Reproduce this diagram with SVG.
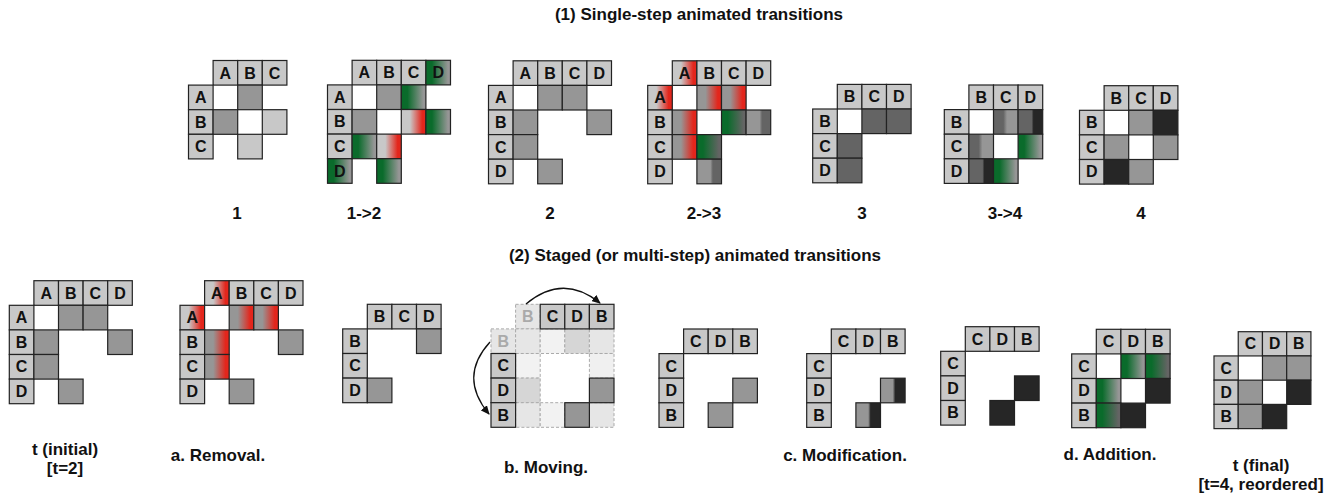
<svg xmlns="http://www.w3.org/2000/svg" width="1332" height="495" viewBox="0 0 1332 495">
<style>
rect{stroke:#222;stroke-width:1.2}
rect.bg{fill:#fff;stroke:none}
.h{fill:#c8c8c8}
.m{fill:#969696}
.d{fill:#646464}
.k{fill:#262626}
.lt{fill:#c8c8c8}
.gh{stroke:#aaa;stroke-dasharray:3 2;stroke-width:1}
.t{font-family:"Liberation Sans",Arial,sans-serif;font-weight:bold;font-size:16px;text-anchor:middle;fill:#111}
.tg{fill:#aaa}
.lb{font-family:"Liberation Sans",Arial,sans-serif;font-weight:bold;font-size:17px;text-anchor:middle;fill:#111}
.arc{fill:none;stroke:#111;stroke-width:1.3}
</style>
<defs>
<linearGradient id="gG9"><stop offset="0" stop-color="#0a6b2b"/><stop offset="0.25" stop-color="#0a6b2b"/><stop offset="0.9" stop-color="#969696"/></linearGradient>
<linearGradient id="gG6"><stop offset="0" stop-color="#0a6b2b"/><stop offset="0.25" stop-color="#0a6b2b"/><stop offset="0.9" stop-color="#646464"/></linearGradient>
<linearGradient id="gCR"><stop offset="0" stop-color="#c8c8c8"/><stop offset="0.35" stop-color="#c8c8c8"/><stop offset="0.85" stop-color="#e3261c"/><stop offset="1" stop-color="#e3261c"/></linearGradient>
<linearGradient id="g9R"><stop offset="0" stop-color="#969696"/><stop offset="0.35" stop-color="#969696"/><stop offset="0.85" stop-color="#e3261c"/><stop offset="1" stop-color="#e3261c"/></linearGradient>
<linearGradient id="g96"><stop offset="0" stop-color="#969696"/><stop offset="0.55" stop-color="#969696"/><stop offset="0.65" stop-color="#646464"/></linearGradient>
<linearGradient id="g69"><stop offset="0" stop-color="#646464"/><stop offset="0.4" stop-color="#646464"/><stop offset="0.55" stop-color="#969696"/></linearGradient>
<linearGradient id="g62"><stop offset="0" stop-color="#646464"/><stop offset="0.55" stop-color="#646464"/><stop offset="0.63" stop-color="#262626"/></linearGradient>
<linearGradient id="g92"><stop offset="0" stop-color="#969696"/><stop offset="0.5" stop-color="#969696"/><stop offset="0.6" stop-color="#262626"/></linearGradient>
<marker id="ah" markerUnits="userSpaceOnUse" markerWidth="9" markerHeight="8" refX="8" refY="4" orient="auto"><path d="M0,0 L9,4 L0,8 z" fill="#111"/></marker>
</defs>
<rect class="bg" x="0" y="0" width="1332" height="495"/>

<g id="titles">
<text class="lb" x="699" y="20">(1) Single-step animated transitions</text>
<text class="lb" x="695" y="261">(2) Staged (or multi-step) animated transitions</text>
<text class="lb" x="237" y="219">1</text>
<text class="lb" x="364" y="219">1-&gt;2</text>
<text class="lb" x="550" y="219">2</text>
<text class="lb" x="704" y="219">2-&gt;3</text>
<text class="lb" x="862" y="219">3</text>
<text class="lb" x="1005" y="219">3-&gt;4</text>
<text class="lb" x="1141" y="219">4</text>
<text class="lb" x="65" y="455">t (initial)</text>
<text class="lb" x="65" y="474">[t=2]</text>
<text class="lb" x="218" y="461">a. Removal.</text>
<text class="lb" x="546" y="473">b. Moving.</text>
<text class="lb" x="845" y="461">c. Modification.</text>
<text class="lb" x="1110" y="460">d. Addition.</text>
<text class="lb" x="1261" y="471">t (final)</text>
<text class="lb" x="1261" y="490">[t=4, reordered]</text>
</g>

<!-- Top row -->
<g id="m1" transform="translate(188.5,60.5)">
<rect class="h" x="24.6" y="0" width="24.6" height="24.6"/><rect class="h" x="49.2" y="0" width="24.6" height="24.6"/><rect class="h" x="73.8" y="0" width="24.6" height="24.6"/>
<rect class="h" x="0" y="24.6" width="24.6" height="24.6"/><rect class="h" x="0" y="49.2" width="24.6" height="24.6"/><rect class="h" x="0" y="73.8" width="24.6" height="24.6"/>
<rect class="m" x="49.2" y="24.6" width="24.6" height="24.6"/>
<rect class="m" x="24.6" y="49.2" width="24.6" height="24.6"/>
<rect class="lt" x="73.8" y="49.2" width="24.6" height="24.6"/>
<rect class="lt" x="49.2" y="73.8" width="24.6" height="24.6"/>
<text class="t" x="36.9" y="18">A</text><text class="t" x="61.5" y="18">B</text><text class="t" x="86.1" y="18">C</text>
<text class="t" x="12.3" y="42.6">A</text><text class="t" x="12.3" y="67.2">B</text><text class="t" x="12.3" y="91.8">C</text>
</g>

<g id="m12" transform="translate(327.5,60.3)">
<rect class="h" x="24.6" y="0" width="24.6" height="24.6"/><rect class="h" x="49.2" y="0" width="24.6" height="24.6"/><rect class="h" x="73.8" y="0" width="24.6" height="24.6"/><rect fill="url(#gG9)" x="98.4" y="0" width="24.6" height="24.6"/>
<rect class="h" x="0" y="24.6" width="24.6" height="24.6"/><rect class="h" x="0" y="49.2" width="24.6" height="24.6"/><rect class="h" x="0" y="73.8" width="24.6" height="24.6"/><rect fill="url(#gG9)" x="0" y="98.4" width="24.6" height="24.6"/>
<rect class="m" x="49.2" y="24.6" width="24.6" height="24.6"/>
<rect fill="url(#gG9)" x="73.8" y="24.6" width="24.6" height="24.6"/>
<rect class="m" x="24.6" y="49.2" width="24.6" height="24.6"/>
<rect fill="url(#gCR)" x="73.8" y="49.2" width="24.6" height="24.6"/>
<rect fill="url(#gG9)" x="98.4" y="49.2" width="24.6" height="24.6"/>
<rect fill="url(#gG9)" x="24.6" y="73.8" width="24.6" height="24.6"/>
<rect fill="url(#gCR)" x="49.2" y="73.8" width="24.6" height="24.6"/>
<rect fill="url(#gG9)" x="49.2" y="98.4" width="24.6" height="24.6"/>
<text class="t" x="36.9" y="18">A</text><text class="t" x="61.5" y="18">B</text><text class="t" x="86.1" y="18">C</text><text class="t" x="110.7" y="18">D</text>
<text class="t" x="12.3" y="42.6">A</text><text class="t" x="12.3" y="67.2">B</text><text class="t" x="12.3" y="91.8">C</text><text class="t" x="12.3" y="116.4">D</text>
</g>

<g id="m2" transform="translate(488.5,60.8)">
<rect class="h" x="24.6" y="0" width="24.6" height="24.6"/><rect class="h" x="49.2" y="0" width="24.6" height="24.6"/><rect class="h" x="73.8" y="0" width="24.6" height="24.6"/><rect class="h" x="98.4" y="0" width="24.6" height="24.6"/>
<rect class="h" x="0" y="24.6" width="24.6" height="24.6"/><rect class="h" x="0" y="49.2" width="24.6" height="24.6"/><rect class="h" x="0" y="73.8" width="24.6" height="24.6"/><rect class="h" x="0" y="98.4" width="24.6" height="24.6"/>
<rect class="m" x="49.2" y="24.6" width="24.6" height="24.6"/>
<rect class="m" x="73.8" y="24.6" width="24.6" height="24.6"/>
<rect class="m" x="24.6" y="49.2" width="24.6" height="24.6"/>
<rect class="m" x="98.4" y="49.2" width="24.6" height="24.6"/>
<rect class="m" x="24.6" y="73.8" width="24.6" height="24.6"/>
<rect class="m" x="49.2" y="98.4" width="24.6" height="24.6"/>
<text class="t" x="36.9" y="18">A</text><text class="t" x="61.5" y="18">B</text><text class="t" x="86.1" y="18">C</text><text class="t" x="110.7" y="18">D</text>
<text class="t" x="12.3" y="42.6">A</text><text class="t" x="12.3" y="67.2">B</text><text class="t" x="12.3" y="91.8">C</text><text class="t" x="12.3" y="116.4">D</text>
</g>

<g id="m23" transform="translate(647.7,60.8)">
<rect fill="url(#gCR)" x="24.6" y="0" width="24.6" height="24.6"/><rect class="h" x="49.2" y="0" width="24.6" height="24.6"/><rect class="h" x="73.8" y="0" width="24.6" height="24.6"/><rect class="h" x="98.4" y="0" width="24.6" height="24.6"/>
<rect fill="url(#gCR)" x="0" y="24.6" width="24.6" height="24.6"/><rect class="h" x="0" y="49.2" width="24.6" height="24.6"/><rect class="h" x="0" y="73.8" width="24.6" height="24.6"/><rect class="h" x="0" y="98.4" width="24.6" height="24.6"/>
<rect fill="url(#g9R)" x="49.2" y="24.6" width="24.6" height="24.6"/>
<rect fill="url(#g9R)" x="73.8" y="24.6" width="24.6" height="24.6"/>
<rect fill="url(#g9R)" x="24.6" y="49.2" width="24.6" height="24.6"/>
<rect fill="url(#gG6)" x="73.8" y="49.2" width="24.6" height="24.6"/>
<rect fill="url(#g96)" x="98.4" y="49.2" width="24.6" height="24.6"/>
<rect fill="url(#g9R)" x="24.6" y="73.8" width="24.6" height="24.6"/>
<rect fill="url(#gG6)" x="49.2" y="73.8" width="24.6" height="24.6"/>
<rect fill="url(#g96)" x="49.2" y="98.4" width="24.6" height="24.6"/>
<text class="t" x="36.9" y="18">A</text><text class="t" x="61.5" y="18">B</text><text class="t" x="86.1" y="18">C</text><text class="t" x="110.7" y="18">D</text>
<text class="t" x="12.3" y="42.6">A</text><text class="t" x="12.3" y="67.2">B</text><text class="t" x="12.3" y="91.8">C</text><text class="t" x="12.3" y="116.4">D</text>
</g>

<g id="m3" transform="translate(812.7,84.4)">
<rect class="h" x="24.6" y="0" width="24.6" height="24.6"/><rect class="h" x="49.2" y="0" width="24.6" height="24.6"/><rect class="h" x="73.8" y="0" width="24.6" height="24.6"/>
<rect class="h" x="0" y="24.6" width="24.6" height="24.6"/><rect class="h" x="0" y="49.2" width="24.6" height="24.6"/><rect class="h" x="0" y="73.8" width="24.6" height="24.6"/>
<rect class="d" x="49.2" y="24.6" width="24.6" height="24.6"/>
<rect class="d" x="73.8" y="24.6" width="24.6" height="24.6"/>
<rect class="d" x="24.6" y="49.2" width="24.6" height="24.6"/>
<rect class="d" x="24.6" y="73.8" width="24.6" height="24.6"/>
<text class="t" x="36.9" y="18">B</text><text class="t" x="61.5" y="18">C</text><text class="t" x="86.1" y="18">D</text>
<text class="t" x="12.3" y="42.6">B</text><text class="t" x="12.3" y="67.2">C</text><text class="t" x="12.3" y="91.8">D</text>
</g>

<g id="m34" transform="translate(944.3,85)">
<rect class="h" x="24.6" y="0" width="24.6" height="24.6"/><rect class="h" x="49.2" y="0" width="24.6" height="24.6"/><rect class="h" x="73.8" y="0" width="24.6" height="24.6"/>
<rect class="h" x="0" y="24.6" width="24.6" height="24.6"/><rect class="h" x="0" y="49.2" width="24.6" height="24.6"/><rect class="h" x="0" y="73.8" width="24.6" height="24.6"/>
<rect fill="url(#g69)" x="49.2" y="24.6" width="24.6" height="24.6"/>
<rect fill="url(#g62)" x="73.8" y="24.6" width="24.6" height="24.6"/>
<rect fill="url(#g69)" x="24.6" y="49.2" width="24.6" height="24.6"/>
<rect fill="url(#gG9)" x="73.8" y="49.2" width="24.6" height="24.6"/>
<rect fill="url(#g62)" x="24.6" y="73.8" width="24.6" height="24.6"/>
<rect fill="url(#gG9)" x="49.2" y="73.8" width="24.6" height="24.6"/>
<text class="t" x="36.9" y="18">B</text><text class="t" x="61.5" y="18">C</text><text class="t" x="86.1" y="18">D</text>
<text class="t" x="12.3" y="42.6">B</text><text class="t" x="12.3" y="67.2">C</text><text class="t" x="12.3" y="91.8">D</text>
</g>

<g id="m4" transform="translate(1079.5,85.7)">
<rect class="h" x="24.6" y="0" width="24.6" height="24.6"/><rect class="h" x="49.2" y="0" width="24.6" height="24.6"/><rect class="h" x="73.8" y="0" width="24.6" height="24.6"/>
<rect class="h" x="0" y="24.6" width="24.6" height="24.6"/><rect class="h" x="0" y="49.2" width="24.6" height="24.6"/><rect class="h" x="0" y="73.8" width="24.6" height="24.6"/>
<rect class="m" x="49.2" y="24.6" width="24.6" height="24.6"/>
<rect class="k" x="73.8" y="24.6" width="24.6" height="24.6"/>
<rect class="m" x="24.6" y="49.2" width="24.6" height="24.6"/>
<rect class="m" x="73.8" y="49.2" width="24.6" height="24.6"/>
<rect class="k" x="24.6" y="73.8" width="24.6" height="24.6"/>
<rect class="m" x="49.2" y="73.8" width="24.6" height="24.6"/>
<text class="t" x="36.9" y="18">B</text><text class="t" x="61.5" y="18">C</text><text class="t" x="86.1" y="18">D</text>
<text class="t" x="12.3" y="42.6">B</text><text class="t" x="12.3" y="67.2">C</text><text class="t" x="12.3" y="91.8">D</text>
</g>

<!-- Bottom row -->
<g id="t-initial" transform="translate(9.3,280.7)">
<rect class="h" x="24.6" y="0" width="24.6" height="24.6"/><rect class="h" x="49.2" y="0" width="24.6" height="24.6"/><rect class="h" x="73.8" y="0" width="24.6" height="24.6"/><rect class="h" x="98.4" y="0" width="24.6" height="24.6"/>
<rect class="h" x="0" y="24.6" width="24.6" height="24.6"/><rect class="h" x="0" y="49.2" width="24.6" height="24.6"/><rect class="h" x="0" y="73.8" width="24.6" height="24.6"/><rect class="h" x="0" y="98.4" width="24.6" height="24.6"/>
<rect class="m" x="49.2" y="24.6" width="24.6" height="24.6"/>
<rect class="m" x="73.8" y="24.6" width="24.6" height="24.6"/>
<rect class="m" x="24.6" y="49.2" width="24.6" height="24.6"/>
<rect class="m" x="98.4" y="49.2" width="24.6" height="24.6"/>
<rect class="m" x="24.6" y="73.8" width="24.6" height="24.6"/>
<rect class="m" x="49.2" y="98.4" width="24.6" height="24.6"/>
<text class="t" x="36.9" y="18">A</text><text class="t" x="61.5" y="18">B</text><text class="t" x="86.1" y="18">C</text><text class="t" x="110.7" y="18">D</text>
<text class="t" x="12.3" y="42.6">A</text><text class="t" x="12.3" y="67.2">B</text><text class="t" x="12.3" y="91.8">C</text><text class="t" x="12.3" y="116.4">D</text>
</g>

<g id="removal" transform="translate(180,280.7)">
<rect fill="url(#gCR)" x="24.6" y="0" width="24.6" height="24.6"/><rect class="h" x="49.2" y="0" width="24.6" height="24.6"/><rect class="h" x="73.8" y="0" width="24.6" height="24.6"/><rect class="h" x="98.4" y="0" width="24.6" height="24.6"/>
<rect fill="url(#gCR)" x="0" y="24.6" width="24.6" height="24.6"/><rect class="h" x="0" y="49.2" width="24.6" height="24.6"/><rect class="h" x="0" y="73.8" width="24.6" height="24.6"/><rect class="h" x="0" y="98.4" width="24.6" height="24.6"/>
<rect fill="url(#g9R)" x="49.2" y="24.6" width="24.6" height="24.6"/>
<rect fill="url(#g9R)" x="73.8" y="24.6" width="24.6" height="24.6"/>
<rect fill="url(#g9R)" x="24.6" y="49.2" width="24.6" height="24.6"/>
<rect class="m" x="98.4" y="49.2" width="24.6" height="24.6"/>
<rect fill="url(#g9R)" x="24.6" y="73.8" width="24.6" height="24.6"/>
<rect class="m" x="49.2" y="98.4" width="24.6" height="24.6"/>
<text class="t" x="36.9" y="18">A</text><text class="t" x="61.5" y="18">B</text><text class="t" x="86.1" y="18">C</text><text class="t" x="110.7" y="18">D</text>
<text class="t" x="12.3" y="42.6">A</text><text class="t" x="12.3" y="67.2">B</text><text class="t" x="12.3" y="91.8">C</text><text class="t" x="12.3" y="116.4">D</text>
</g>

<g id="after-removal" transform="translate(342.7,304.3)">
<rect class="h" x="24.6" y="0" width="24.6" height="24.6"/><rect class="h" x="49.2" y="0" width="24.6" height="24.6"/><rect class="h" x="73.8" y="0" width="24.6" height="24.6"/>
<rect class="h" x="0" y="24.6" width="24.6" height="24.6"/><rect class="h" x="0" y="49.2" width="24.6" height="24.6"/><rect class="h" x="0" y="73.8" width="24.6" height="24.6"/>
<rect class="m" x="73.8" y="24.6" width="24.6" height="24.6"/>
<rect class="m" x="24.6" y="73.8" width="24.6" height="24.6"/>
<text class="t" x="36.9" y="18">B</text><text class="t" x="61.5" y="18">C</text><text class="t" x="86.1" y="18">D</text>
<text class="t" x="12.3" y="42.6">B</text><text class="t" x="12.3" y="67.2">C</text><text class="t" x="12.3" y="91.8">D</text>
</g>

<g id="moving" transform="translate(491,304.3)">
<rect class="gh" fill="#e6e6e6" x="24.6" y="0" width="24.6" height="24.6"/>
<rect class="gh" fill="#e6e6e6" x="0" y="24.6" width="24.6" height="24.6"/>
<rect class="gh" fill="#e6e6e6" x="24.6" y="24.6" width="24.6" height="24.6"/>
<rect class="gh" fill="#f2f2f2" x="49.2" y="24.6" width="24.6" height="24.6"/>
<rect class="gh" fill="#d6d6d6" x="73.8" y="24.6" width="24.6" height="24.6"/>
<rect class="gh" fill="#e6e6e6" x="98.4" y="24.6" width="24.6" height="24.6"/>
<rect class="gh" fill="#f2f2f2" x="24.6" y="49.2" width="24.6" height="24.6"/>
<rect class="gh" fill="#f0f0f0" x="98.4" y="49.2" width="24.6" height="24.6"/>
<rect class="gh" fill="#d6d6d6" x="24.6" y="73.8" width="24.6" height="24.6"/>
<rect class="gh" fill="#e6e6e6" x="24.6" y="98.4" width="24.6" height="24.6"/>
<rect class="gh" fill="#f2f2f2" x="49.2" y="98.4" width="24.6" height="24.6"/>
<rect class="gh" fill="#e6e6e6" x="98.4" y="98.4" width="24.6" height="24.6"/>
<rect class="h" x="49.2" y="0" width="24.6" height="24.6"/><rect class="h" x="73.8" y="0" width="24.6" height="24.6"/><rect class="h" x="98.4" y="0" width="24.6" height="24.6"/>
<rect class="h" x="0" y="49.2" width="24.6" height="24.6"/><rect class="h" x="0" y="73.8" width="24.6" height="24.6"/><rect class="h" x="0" y="98.4" width="24.6" height="24.6"/>
<rect class="m" x="98.4" y="73.8" width="24.6" height="24.6"/>
<rect class="m" x="73.8" y="98.4" width="24.6" height="24.6"/>
<text class="t tg" x="36.9" y="18">B</text><text class="t" x="61.5" y="18">C</text><text class="t" x="86.1" y="18">D</text><text class="t" x="110.7" y="18">B</text>
<text class="t tg" x="12.3" y="42.6">B</text><text class="t" x="12.3" y="67.2">C</text><text class="t" x="12.3" y="91.8">D</text><text class="t" x="12.3" y="116.4">B</text>
</g>

<g id="after-moving" transform="translate(659,329)">
<rect class="h" x="24.6" y="0" width="24.6" height="24.6"/><rect class="h" x="49.2" y="0" width="24.6" height="24.6"/><rect class="h" x="73.8" y="0" width="24.6" height="24.6"/>
<rect class="h" x="0" y="24.6" width="24.6" height="24.6"/><rect class="h" x="0" y="49.2" width="24.6" height="24.6"/><rect class="h" x="0" y="73.8" width="24.6" height="24.6"/>
<rect class="m" x="73.8" y="49.2" width="24.6" height="24.6"/>
<rect class="m" x="49.2" y="73.8" width="24.6" height="24.6"/>
<text class="t" x="36.9" y="18">C</text><text class="t" x="61.5" y="18">D</text><text class="t" x="86.1" y="18">B</text>
<text class="t" x="12.3" y="42.6">C</text><text class="t" x="12.3" y="67.2">D</text><text class="t" x="12.3" y="91.8">B</text>
</g>

<g id="modification" transform="translate(806.7,329)">
<rect class="h" x="24.6" y="0" width="24.6" height="24.6"/><rect class="h" x="49.2" y="0" width="24.6" height="24.6"/><rect class="h" x="73.8" y="0" width="24.6" height="24.6"/>
<rect class="h" x="0" y="24.6" width="24.6" height="24.6"/><rect class="h" x="0" y="49.2" width="24.6" height="24.6"/><rect class="h" x="0" y="73.8" width="24.6" height="24.6"/>
<rect fill="url(#g92)" x="73.8" y="49.2" width="24.6" height="24.6"/>
<rect fill="url(#g92)" x="49.2" y="73.8" width="24.6" height="24.6"/>
<text class="t" x="36.9" y="18">C</text><text class="t" x="61.5" y="18">D</text><text class="t" x="86.1" y="18">B</text>
<text class="t" x="12.3" y="42.6">C</text><text class="t" x="12.3" y="67.2">D</text><text class="t" x="12.3" y="91.8">B</text>
</g>

<g id="after-modification" transform="translate(940.7,326.7)">
<rect class="h" x="24.6" y="0" width="24.6" height="24.6"/><rect class="h" x="49.2" y="0" width="24.6" height="24.6"/><rect class="h" x="73.8" y="0" width="24.6" height="24.6"/>
<rect class="h" x="0" y="24.6" width="24.6" height="24.6"/><rect class="h" x="0" y="49.2" width="24.6" height="24.6"/><rect class="h" x="0" y="73.8" width="24.6" height="24.6"/>
<rect class="k" x="73.8" y="49.2" width="24.6" height="24.6"/>
<rect class="k" x="49.2" y="73.8" width="24.6" height="24.6"/>
<text class="t" x="36.9" y="18">C</text><text class="t" x="61.5" y="18">D</text><text class="t" x="86.1" y="18">B</text>
<text class="t" x="12.3" y="42.6">C</text><text class="t" x="12.3" y="67.2">D</text><text class="t" x="12.3" y="91.8">B</text>
</g>

<g id="addition" transform="translate(1071.7,329.3)">
<rect class="h" x="24.6" y="0" width="24.6" height="24.6"/><rect class="h" x="49.2" y="0" width="24.6" height="24.6"/><rect class="h" x="73.8" y="0" width="24.6" height="24.6"/>
<rect class="h" x="0" y="24.6" width="24.6" height="24.6"/><rect class="h" x="0" y="49.2" width="24.6" height="24.6"/><rect class="h" x="0" y="73.8" width="24.6" height="24.6"/>
<rect fill="url(#gG9)" x="49.2" y="24.6" width="24.6" height="24.6"/>
<rect fill="url(#gG6)" x="73.8" y="24.6" width="24.6" height="24.6"/>
<rect fill="url(#gG9)" x="24.6" y="49.2" width="24.6" height="24.6"/>
<rect class="k" x="73.8" y="49.2" width="24.6" height="24.6"/>
<rect fill="url(#gG6)" x="24.6" y="73.8" width="24.6" height="24.6"/>
<rect class="k" x="49.2" y="73.8" width="24.6" height="24.6"/>
<text class="t" x="36.9" y="18">C</text><text class="t" x="61.5" y="18">D</text><text class="t" x="86.1" y="18">B</text>
<text class="t" x="12.3" y="42.6">C</text><text class="t" x="12.3" y="67.2">D</text><text class="t" x="12.3" y="91.8">B</text>
</g>

<g id="t-final" transform="translate(1214,331.7) scale(0.985)">
<rect class="h" x="24.6" y="0" width="24.6" height="24.6"/><rect class="h" x="49.2" y="0" width="24.6" height="24.6"/><rect class="h" x="73.8" y="0" width="24.6" height="24.6"/>
<rect class="h" x="0" y="24.6" width="24.6" height="24.6"/><rect class="h" x="0" y="49.2" width="24.6" height="24.6"/><rect class="h" x="0" y="73.8" width="24.6" height="24.6"/>
<rect class="m" x="49.2" y="24.6" width="24.6" height="24.6"/>
<rect class="m" x="73.8" y="24.6" width="24.6" height="24.6"/>
<rect class="m" x="24.6" y="49.2" width="24.6" height="24.6"/>
<rect class="k" x="73.8" y="49.2" width="24.6" height="24.6"/>
<rect class="m" x="24.6" y="73.8" width="24.6" height="24.6"/>
<rect class="k" x="49.2" y="73.8" width="24.6" height="24.6"/>
<text class="t" x="36.9" y="18">C</text><text class="t" x="61.5" y="18">D</text><text class="t" x="86.1" y="18">B</text>
<text class="t" x="12.3" y="42.6">C</text><text class="t" x="12.3" y="67.2">D</text><text class="t" x="12.3" y="91.8">B</text>
</g>

<g id="connectors">
<path class="arc" d="M526,304 Q563,273 600,303" marker-end="url(#ah)"/>
<path class="arc" d="M490,342 Q458,377 489,414" marker-end="url(#ah)"/>
</g>
</svg>
